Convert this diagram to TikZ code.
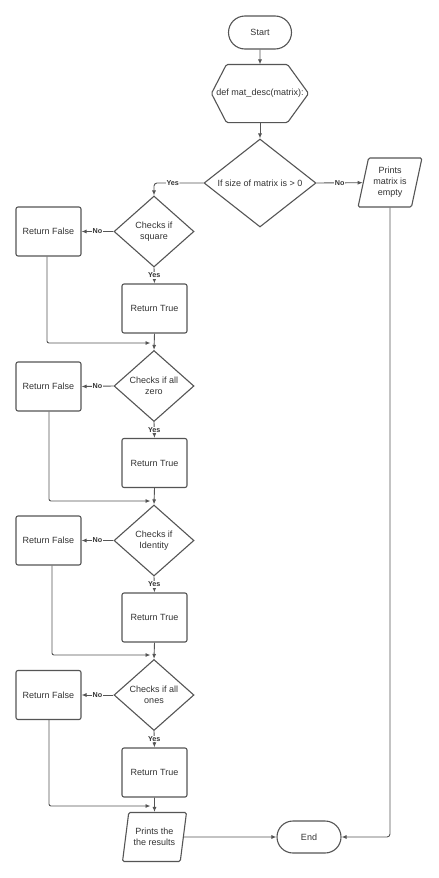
\documentclass[tikz,border=0pt]{standalone}
\usepackage{fontspec}
\setmainfont{Liberation Sans}
\usetikzlibrary{shapes.geometric,shapes.misc,arrows.meta}
\definecolor{ln}{HTML}{555555}
\definecolor{tx}{HTML}{333333}
\begin{document}
\begin{tikzpicture}[x=1pt,y=-1pt,
  base/.style={draw=ln, line width=1.1pt, text=tx, font=\fontsize{9}{11}\selectfont, align=center, inner sep=1pt},
  procbox/.style={base, rectangle, rounded corners=2pt, minimum width=65pt, minimum height=49pt},
  decision/.style={base, diamond, shape aspect=1.13, minimum width=80pt, minimum height=71pt, inner sep=0pt},
  term/.style={base, rounded rectangle, minimum width=65pt, minimum height=33pt},
  iobox/.style={base, trapezium, trapezium left angle=75, trapezium right angle=105, trapezium stretches=true, minimum width=64pt, minimum height=49pt, rounded corners=1.5pt},
  outline/.style={draw=ln, line width=1.1pt, rounded corners=1.5pt},
  conn/.style={draw=ln, line width=0.9pt, -{Latex[length=5pt,width=4pt]}},
  lab/.style={font=\bfseries\fontsize{7.2}{8}\selectfont, text=tx, fill=white, inner sep=0.6pt}]
\fill[white] (0,0) rectangle (439,878);
\useasboundingbox (0,0) rectangle (439,878);

\node[term] (start) at (260,32.5) {Start};
\node[base, draw=none, rectangle, minimum width=96pt, minimum height=57pt] (def) at (260,93.5) {def mat\_desc(matrix):};
\draw[outline] (def.west) -- ([xshift=15pt]def.north west) -- ([xshift=-21pt]def.north east)
  -- (def.east) -- ([xshift=-21pt]def.south east) -- ([xshift=15pt]def.south west) -- cycle;
\node[decision, shape aspect=1.27, minimum width=112pt, minimum height=88pt] (d1) at (260,183) {If size of matrix is > 0};
\node[iobox] (pe) at (390,182.5) {Prints\\matrix is\\empty};

\node[decision] (d2) at (154,231.5) {Checks if\\square};
\node[procbox] (rf1) at (48.5,231.5) {Return False};
\node[procbox] (rt1) at (154.5,308.5) {Return True};

\node[decision] (d3) at (154,386) {Checks if all\\zero};
\node[procbox] (rf2) at (48.5,386.5) {Return False};
\node[procbox] (rt2) at (154.5,463) {Return True};

\node[decision] (d4) at (154,540.5) {Checks if\\Identity};
\node[procbox] (rf3) at (48.5,540.5) {Return False};
\node[procbox] (rt3) at (154.5,617.5) {Return True};

\node[decision] (d5) at (154,695) {Checks if all\\ones};
\node[procbox] (rf4) at (48.5,695) {Return False};
\node[procbox] (rt4) at (154.5,772.5) {Return True};

\node[iobox] (pr) at (154.5,837) {Prints the\\the results};
\node[term, minimum width=66pt, minimum height=32pt] (end) at (309,837) {End};

\coordinate (m1) at (150.5,343);
\coordinate (m2) at (150.5,501);
\coordinate (m3) at (150.5,655);
\coordinate (m4) at (150.5,806);

\draw[conn] (start) -- (def);
\draw[conn] (def) -- (d1);
\draw[conn, rounded corners=3pt] (d1.west) -| node[lab, pos=0.31]{Yes} (d2.north);
\draw[conn] (d1.east) -- node[lab]{No} (pe);
\draw[conn, rounded corners=3pt] (pe.south) |- (end.east);

\draw[conn] (d2.south) -- node[lab]{Yes} (rt1.north);
\draw[conn] (d2.west) -- node[lab]{No} (rf1.east);
\draw[conn] (rt1.south) -- (d3.north);
\draw[conn, rounded corners=2pt] ([xshift=-1.5pt]rf1.south) |- (m1);

\draw[conn] (d3.south) -- node[lab]{Yes} (rt2.north);
\draw[conn] (d3.west) -- node[lab]{No} (rf2.east);
\draw[conn] (rt2.south) -- (d4.north);
\draw[conn, rounded corners=2pt] ([xshift=0.5pt]rf2.south) |- (m2);

\draw[conn] (d4.south) -- node[lab]{Yes} (rt3.north);
\draw[conn] (d4.west) -- node[lab]{No} (rf3.east);
\draw[conn] (rt3.south) -- (d5.north);
\draw[conn, rounded corners=2pt] ([xshift=3.5pt]rf3.south) |- (m3);

\draw[conn] (d5.south) -- node[lab]{Yes} (rt4.north);
\draw[conn] (d5.west) -- node[lab]{No} (rf4.east);
\draw[conn] (rt4.south) -- (pr.north);
\draw[conn, rounded corners=2pt] ([xshift=0.5pt]rf4.south) |- (m4);

\draw[conn] (pr.east) -- (end.west);
\end{tikzpicture}
\end{document}
